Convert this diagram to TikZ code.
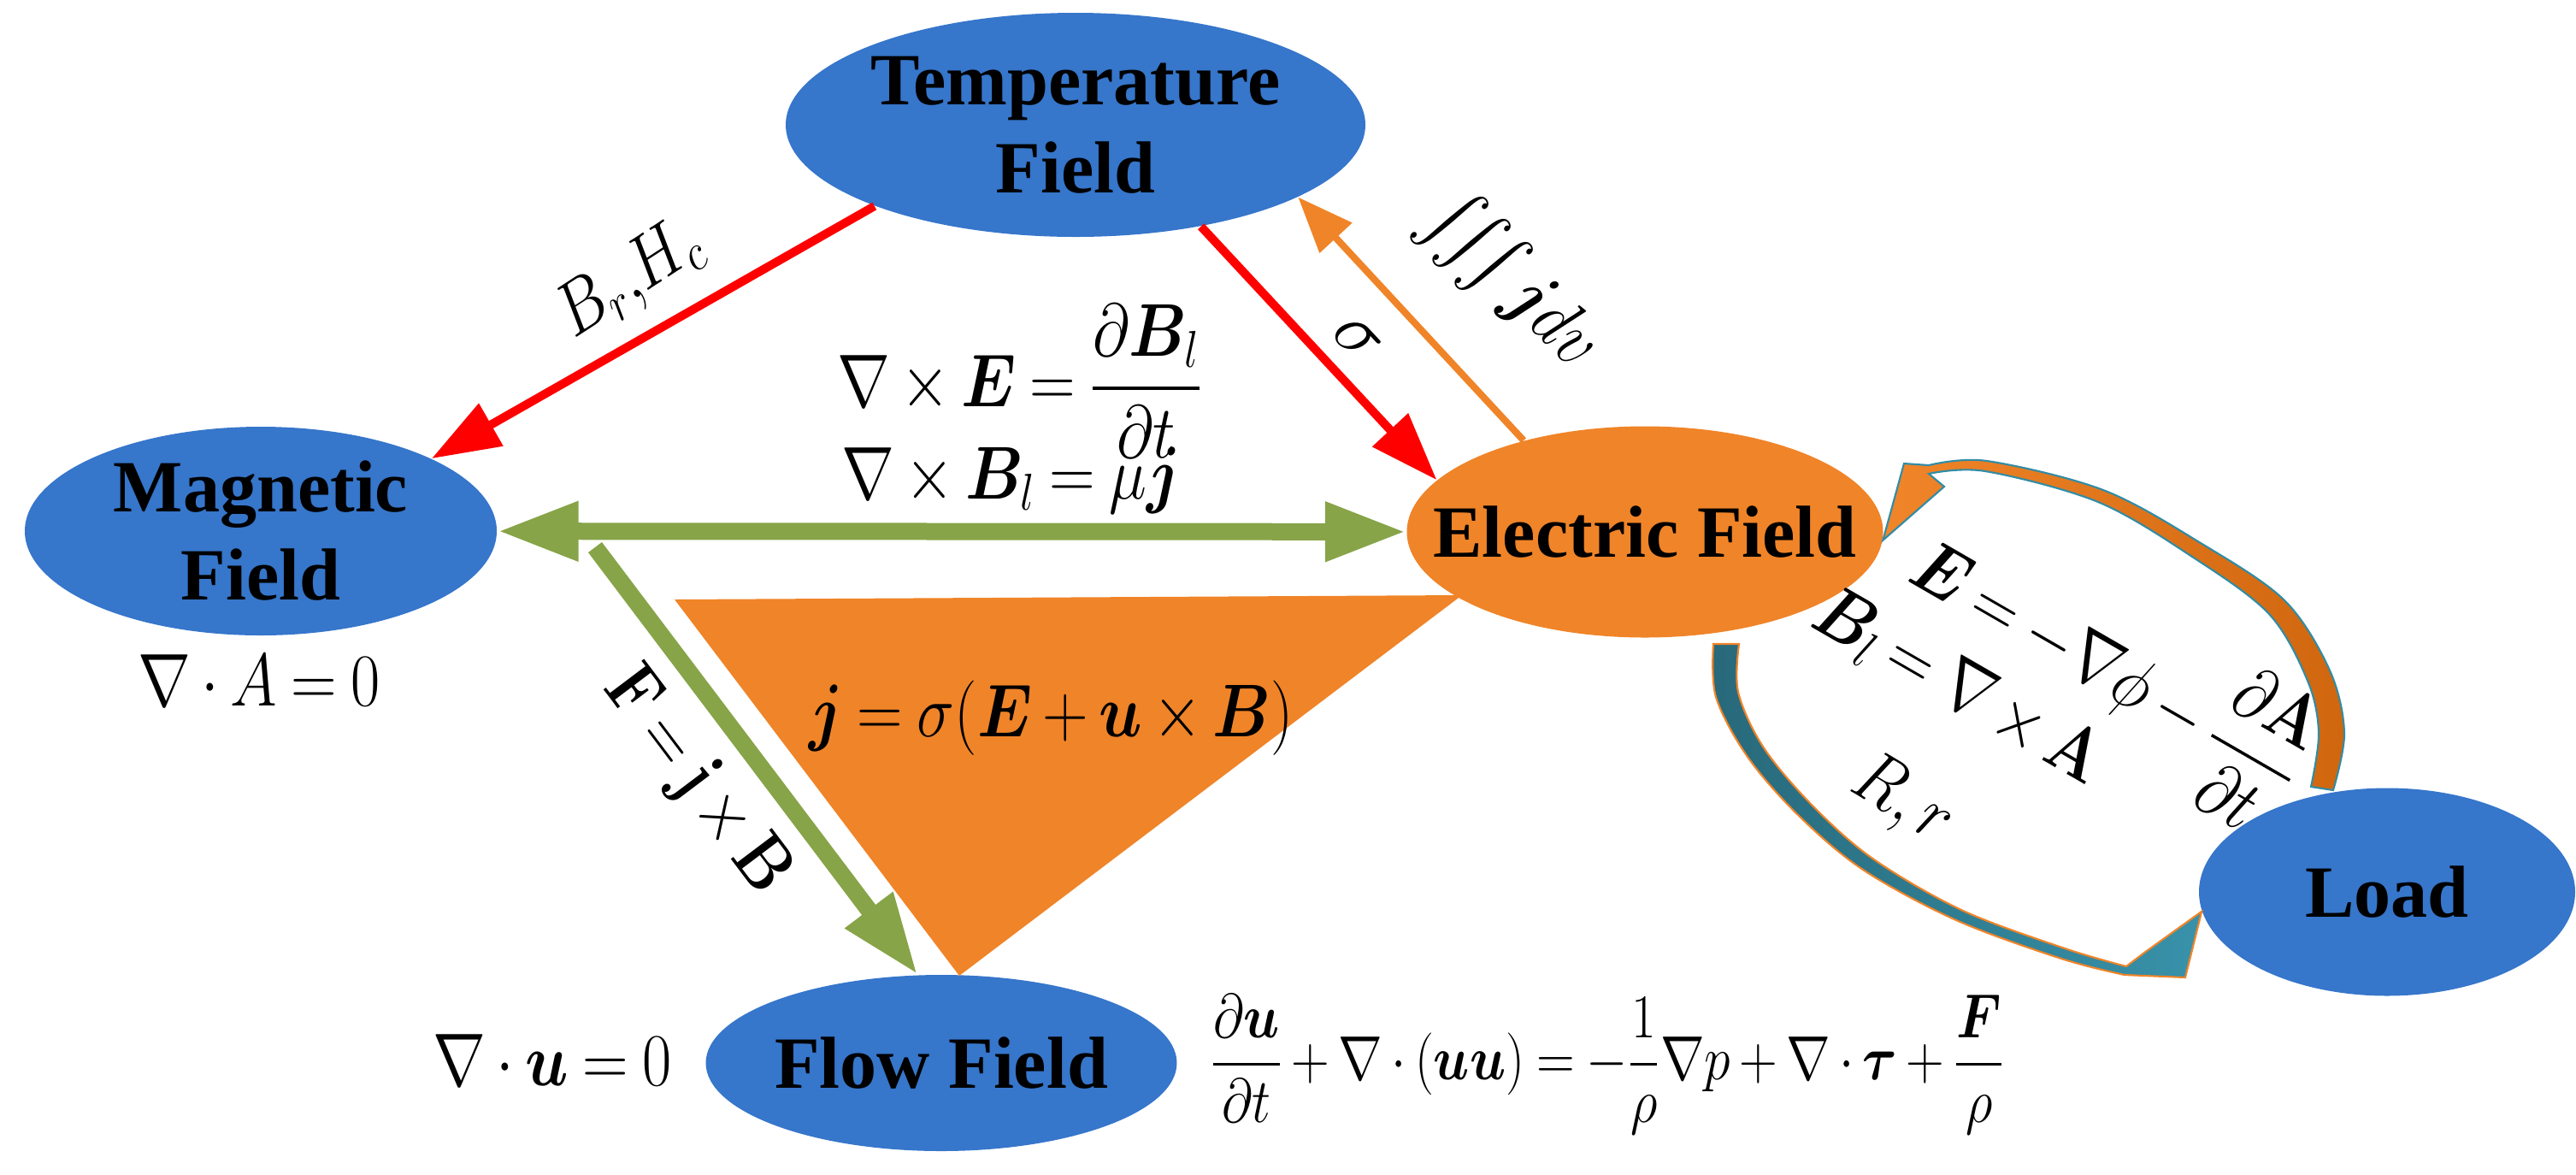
\documentclass[tikz,border=0pt]{standalone}
\usepackage{amsmath}
\usepackage{bm}
\usepackage[no-math]{fontspec}
\setmainfont{Liberation Serif}
\usetikzlibrary{
	arrows.meta,
	shapes.geometric
}
\definecolor{fieldblue}{RGB}{54,118,203}
\definecolor{fieldorange}{RGB}{240,132,40}
\definecolor{arrred}{RGB}{255,0,0}
\definecolor{arrgreen}{RGB}{135,164,72}
\definecolor{curveorangelight}{RGB}{240,133,42}
\definecolor{curveorangedark}{RGB}{208,102,14}
\definecolor{curvetealdark}{RGB}{40,105,122}
\definecolor{curveteallight}{RGB}{56,146,170}
\definecolor{curveteal}{RGB}{49,140,165}
\newcommand{\tightmath}{\medmuskip=3mu\relax\thickmuskip=4mu\relax}

\begin{document}
\begin{tikzpicture}[
	field/.style={ellipse, fill=fieldblue, inner xsep=-0.6cm, inner ysep=-0.3cm, align=center,
		font=\bfseries\fontsize{24.5}{29.3}\selectfont},
	lbl/.style={inner sep=0pt, font=\fontsize{23}{27}\selectfont},
	narrow/.style={xscale=0.85},
	redarrow/.style={draw=arrred, line width=0.1cm, -{Triangle[length=0.8cm,width=0.55cm]}},
	orangearrow/.style={draw=fieldorange, line width=0.08cm, -{Triangle[length=0.65cm,width=0.5cm]}},
	greenarrow/.style={draw=arrgreen, line width=0.2cm, -{Triangle[length=0.95cm,width=0.65cm]}},
	upcurve/.style={left color=curveorangelight, right color=curveorangedark, draw=curveteal, line width=0.6pt},
	lowcurve/.style={left color=curvetealdark, right color=curveteallight, draw=fieldorange, line width=0.6pt}
	]
	\useasboundingbox (0,0) rectangle (30.13,-13.73);

	\node[field, minimum width=6.78cm, minimum height=2.62cm] (temp) at (12.58,-1.46) {Temperature\\Field};
	\node[field, minimum width=5.52cm, minimum height=2.44cm] (mag) at (3.05,-6.21) {Magnetic\\Field};
	\node[field, fill=fieldorange, minimum width=5.57cm, minimum height=2.47cm] (elec) at (19.24,-6.22) {Electric Field};
	\node[field, minimum width=4.40cm, minimum height=2.43cm] (load) at (27.92,-10.43) {Load};
	\node[field, minimum width=5.51cm, minimum height=2.06cm] (flow) at (11.01,-12.43) {Flow Field};

	\fill[fieldorange] (7.89,-7.01) -- (17.10,-6.96) -- (11.22,-11.41) -- cycle;

	\draw[redarrow] (temp.202) -- (mag.23);
	\draw[redarrow] (temp.-39) -- (elec.166);
	\draw[orangearrow] (elec.143) -- (temp.-18);
	\draw[greenarrow, {Triangle[length=0.95cm,width=0.65cm]}-{Triangle[length=0.95cm,width=0.65cm]}] (mag) -- (elec);
	\coordinate (fork) at (6.96,-6.40);
	\draw[greenarrow] (fork) -- (flow.105);

	\draw[upcurve] plot[smooth, tension=0.55] coordinates {(27.29,-9.24) (27.42,-8.57) (27.25,-7.84) (26.72,-7.02) (25.74,-6.35) (24.60,-5.73) (23.24,-5.39) (22.56,-5.44)}
		-- (22.27,-5.42) -- (elec.-2) -- (22.74,-5.69)
		-- plot[smooth, tension=0.55] coordinates {(22.56,-5.54) (23.22,-5.51) (24.54,-5.87) (25.64,-6.51) (26.54,-7.18) (26.99,-7.96) (27.12,-8.57) (27.03,-9.20)} -- cycle;
	\draw[lowcurve] plot[smooth, tension=0.55] coordinates {(20.04,-7.53) (20.07,-8.15) (20.44,-8.85) (21.03,-9.53) (21.79,-10.17) (22.88,-10.76) (24.11,-11.21) (24.85,-11.40)}
		-- (25.56,-11.43) -- (load.186) -- (25.08,-11.14)
		-- plot[smooth, tension=0.55] coordinates {(24.87,-11.30) (24.15,-11.09) (22.94,-10.64) (21.89,-10.03) (21.17,-9.39) (20.62,-8.73) (20.33,-8.09) (20.34,-7.53)} -- cycle;

	\node[lbl, rotate=33, narrow] (brhc) at (7.37,-3.28) {$B_r{,}H_c$};
	\node[lbl, rotate=-47] (sig) at (15.87,-3.97) {$\sigma$};
	\node[lbl, rotate=-45, narrow] (ijdv) at (17.67,-3.30) {$\iiint\bm{j}dv$};
	\node[lbl, narrow] (curlE) at (11.93,-4.46) {$\tightmath\nabla\times\bm{E}=\dfrac{\partial\bm{B}_l}{\partial t}$};
	\node[lbl, narrow, anchor=base] (curlB) at (11.83,-5.83) {$\tightmath\nabla\times\bm{B}_l=\mu\bm{j}$};
	\node[lbl, narrow, anchor=base] (divA) at (3.03,-8.25) {$\tightmath\nabla\cdot A=0$};
	\node[lbl, rotate=-53, narrow] (fjb) at (8.14,-9.14) {$\tightmath\mathbf{F}=\mathbf{j}\times\mathbf{B}$};
	\node[lbl, narrow] (ohm) at (12.30,-8.40) {$\tightmath\bm{j}=\sigma(\bm{E}+\bm{u}\times\bm{B})$};
	\node[lbl, narrow, anchor=base] (divu) at (6.46,-12.69) {$\tightmath\nabla\cdot\bm{u}=0$};
	\node[lbl, narrow, font=\fontsize{20}{24}\selectfont] (ns) at (18.80,-12.45)
		{$\tightmath\dfrac{\partial\bm{u}}{\partial t}+\nabla\cdot(\bm{uu})=-\dfrac{1}{\rho}\nabla p+\nabla\cdot\bm{\tau}+\dfrac{\bm{F}}{\rho}$};
	\node[lbl, rotate=-30, narrow] (gauge) at (24.65,-7.80) {$\tightmath\bm{E}=-\nabla\phi-\dfrac{\partial\mathbf{A}}{\partial t}$};
	\node[lbl, rotate=-30, narrow] (potB) at (22.90,-8.05) {$\tightmath\bm{B}_l=\nabla\times\mathbf{A}$};
	\node[lbl, rotate=-31, narrow] (rr) at (22.25,-9.37) {$R,r$};
\end{tikzpicture}
\end{document}
